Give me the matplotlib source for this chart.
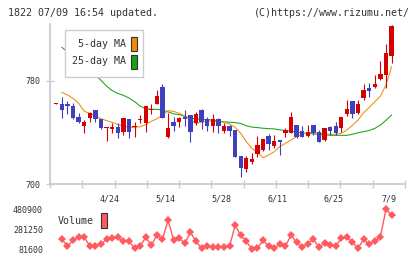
import matplotlib
matplotlib.use("Agg")
import matplotlib.pyplot as plt
from matplotlib.patches import Rectangle
import numpy as np

# daily candles, oldest first (last one is 7/9)
opens = [762.5, 762.1, 762.1, 760.6, 751.8, 745.3, 751.5, 757.5, 750.7, 743.5,
         743.0, 744.3, 740.6, 750.5, 744.5, 750.0, 747.4, 757.3, 762.4, 775.1,
         736.8, 748.2, 748.2, 752.3, 753.6, 747.6, 757.5, 750.2, 745.3, 750.5,
         741.2, 745.0, 741.9, 721.7, 711.7, 717.1, 723.6, 726.7, 737.3, 729.5,
         734.2, 739.9, 739.9, 745.6, 740.9, 737.5, 745.8, 740.4, 734.4, 744.3,
         744.8, 743.2, 754.4, 764.5, 755.1, 766.5, 774.6, 775.3, 781.6, 784.9,
         799.7]
highs = [763.2, 767.3, 764.5, 762.7, 755.4, 749.7, 756.0, 757.5, 750.7, 744.0,
         747.6, 747.1, 751.3, 750.5, 748.4, 753.6, 760.6, 762.1, 773.0, 777.4,
         755.4, 751.8, 752.3, 757.5, 753.6, 756.0, 758.3, 752.3, 754.4, 751.5,
         747.1, 745.6, 741.9, 721.7, 721.7, 723.8, 737.3, 735.0, 738.8, 737.8,
         734.2, 743.5, 755.9, 745.6, 745.0, 745.8, 745.8, 741.9, 743.5, 745.0,
         748.4, 751.8, 765.2, 764.5, 765.2, 777.7, 778.2, 784.4, 795.3, 808.7,
         823.5]
lows = [762.3, 751.5, 754.6, 750.7, 747.6, 739.9, 748.4, 748.4, 742.7, 733.7,
        739.4, 736.0, 738.1, 736.0, 736.8, 747.1, 740.6, 754.4, 762.4, 751.5,
        736.0, 741.2, 744.5, 745.3, 732.9, 746.1, 743.0, 741.2, 740.6, 740.0,
        739.9, 737.3, 721.2, 705.7, 709.3, 715.5, 721.2, 725.9, 726.4, 728.0,
        722.5, 736.8, 739.9, 735.7, 736.8, 736.8, 738.1, 732.9, 733.4, 738.1,
        737.8, 740.6, 753.1, 751.0, 754.4, 765.2, 767.8, 774.6, 780.8, 774.6,
        793.7]
closes = [763.0, 757.7, 760.3, 751.5, 748.4, 748.4, 755.4, 750.7, 743.5, 743.8,
          744.3, 739.9, 751.3, 740.6, 744.8, 750.2, 760.6, 757.5, 768.3, 751.5,
          743.5, 745.3, 751.3, 750.5, 740.6, 754.4, 747.9, 745.3, 750.2, 745.3,
          745.0, 741.4, 721.2, 712.7, 720.2, 719.4, 730.3, 735.0, 731.1, 733.4,
          732.6, 741.7, 752.0, 736.5, 736.8, 740.1, 739.9, 732.9, 743.5, 741.4,
          739.9, 751.8, 758.3, 754.6, 762.1, 773.0, 772.2, 777.7, 785.4, 802.0,
          823.0]

ma5 = [None, 771.2, 769.1, 766.5, 762.7, 756.4, 754.9, 752.8, 750.7, 749.2,
       747.9, 746.3, 744.8, 744.0, 744.0, 744.5, 746.1, 748.7, 750.7, 753.3,
       757.0, 756.4, 754.9, 752.8, 750.2, 747.1, 747.9, 748.9, 748.9, 748.7,
       747.9, 746.6, 744.0, 739.4, 732.9, 727.7, 724.3, 720.5, 722.5, 725.1,
       729.0, 731.6, 734.2, 736.8, 738.6, 739.9, 740.1, 739.4, 738.8, 738.6,
       738.6, 739.4, 741.9, 745.6, 749.7, 755.4, 759.5, 763.9, 768.3, 776.9,
       791.1]
ma25 = [None, 806.2, 802.5, 798.5, 795.0, 791.5, 788.0, 784.5, 780.5, 776.0,
        772.5, 770.4, 768.9, 766.8, 764.0, 760.5, 758.5, 758.0, 758.0, 757.5,
        756.0, 754.5, 753.9, 752.5, 751.2, 750.6, 750.2, 750.0, 749.7, 749.0,
        748.2, 748.0, 747.7, 747.0, 745.2, 744.2, 743.8, 743.3, 743.0, 742.8,
        742.0, 741.6, 741.0, 740.3, 739.6, 739.2, 738.9, 738.5, 738.1, 737.9,
        737.8, 737.8, 737.8, 738.6, 739.8, 740.6, 741.6, 743.2, 745.8, 749.5,
        753.6]

# volume starts on the second candle
volume = [181400, 111500, 171400, 201400, 201400, 114900, 114900, 134800, 181400, 191400,
          201400, 161500, 161500, 91600, 111500, 201400, 121500, 224700, 181400, 371100,
          171400, 191400, 141500, 251300, 161500, 91600, 111500, 101600, 101600, 101600,
          111500, 321200, 221400, 161500, 81600, 91600, 171400, 111500, 91600, 131500,
          111500, 224700, 151500, 101600, 138200, 181400, 101600, 141500, 121500, 111500,
          191400, 201400, 151500, 91600, 181400, 131500, 161500, 208000, 480900, 421000]

date_labels = ["4/24", "5/14", "5/28", "6/11", "6/25", "7/9"]
date_idx = [10, 20, 30, 40, 50, 60]
vol_ticks = [81600, 281250, 480900]

UP = "#d60000"
DOWN = "#4040bf"
ORANGE = "#f08c0a"
GREEN = "#14a514"
VOLC = "#ff5a5f"
GRID = "#cccccc"
TXT = "#333333"
MONO = "DejaVu Sans Mono"

W, H = 420, 259


def fx(x):
    return x / W


def fy(y):
    return 1 - y / H


fig = plt.figure(figsize=(W / 100, H / 100), dpi=100)

# ---- price panel
ax = fig.add_axes([fx(50), fy(184), 355 / W, 160 / H])
n = len(closes)
idx = np.arange(n)
xmin, xmax = -1.13, 62.4

ax.plot(idx, [np.nan if v is None else v for v in ma25], color=GREEN, lw=0.75, zorder=2)
ax.plot(idx, [np.nan if v is None else v for v in ma5], color=ORANGE, lw=0.75, zorder=2)

o = np.array(opens)
c = np.array(closes)
colors = [UP if cc >= oo else DOWN for oo, cc in zip(o, c)]
ax.vlines(idx, lows, highs, colors=colors, lw=0.8, zorder=3)
body_low = np.minimum(o, c)
body_h = np.maximum(np.abs(c - o), 0.8)
ax.bar(idx, body_h, bottom=body_low, width=0.78, color=colors, zorder=4, linewidth=0)

ax.set_xlim(xmin, xmax)
ax.set_ylim(700, 700 + 160 / 1.2875)
for s in ["top", "right"]:
    ax.spines[s].set_visible(False)
for s in ["left", "bottom"]:
    ax.spines[s].set_color(GRID)
    ax.spines[s].set_linewidth(1.3)

ax.set_yticks([700, 780])
ax.set_yticklabels(["700", "780"], fontfamily=MONO, fontsize=6, color=TXT)
ax.tick_params(axis="y", direction="inout", length=5.5, width=1, color=GRID, pad=4)

ax.set_xticks(np.array(date_idx) - 0.4)
ax.set_xticklabels(date_labels, fontfamily=MONO, fontsize=6, color=TXT)
ax.tick_params(axis="x", which="major", length=0, pad=7.5)
ax.set_xticks(np.linspace(xmin, xmax, 12), minor=True)
ax.tick_params(axis="x", which="minor", direction="inout", length=5.5, width=1, color=GRID)

# ---- volume panel
vax = fig.add_axes([fx(50), fy(249.3), 355 / W, 40 / H])
vax.plot(idx[1:], volume, color=VOLC, lw=1, marker="D", ms=3.6, mew=0, clip_on=False)
vax.set_xlim(xmin, xmax)
vax.set_ylim(vol_ticks[0], vol_ticks[-1])
for s in vax.spines.values():
    s.set_visible(False)
vax.set_xticks([])
vax.set_yticks(vol_ticks)
vax.set_yticklabels([str(v) for v in vol_ticks], fontfamily=MONO, fontsize=6, color=TXT)
vax.tick_params(axis="y", length=0, pad=5)

# ---- header
fig.text(fx(8), fy(13), "1822 07/09 16:54 updated.", fontfamily=MONO, fontsize=7.2,
         color=TXT, va="center", ha="left")
fig.text(fx(410), fy(13), "(C)https://www.rizumu.net/", fontfamily=MONO, fontsize=7.2,
         color=TXT, va="center", ha="right")

# ---- legend box
fig.patches.append(Rectangle((fx(65), fy(77)), 78 / W, 47 / H, transform=fig.transFigure,
                             facecolor="white", edgecolor=GRID, lw=1, zorder=10))
for y0, label, col in [(44, "5-day MA", ORANGE), (61.5, "25-day MA", GREEN)]:
    fig.text(fx(126), fy(y0), label, fontfamily=MONO, fontsize=7.2, color=TXT,
             ha="right", va="center", zorder=11)
    fig.patches.append(Rectangle((fx(131), fy(y0 + 7)), 6 / W, 14 / H,
                                 transform=fig.transFigure, facecolor=col,
                                 edgecolor="#333333", lw=0.8, zorder=11))

fig.text(fx(94), fy(221), "Volume", fontfamily=MONO, fontsize=7.2, color=TXT,
         ha="right", va="center")
fig.patches.append(Rectangle((fx(101), fy(228.3)), 6 / W, 15.5 / H,
                             transform=fig.transFigure, facecolor=VOLC,
                             edgecolor="#333333", lw=0.8))

fig.savefig("out.png", dpi=100, facecolor="white")
